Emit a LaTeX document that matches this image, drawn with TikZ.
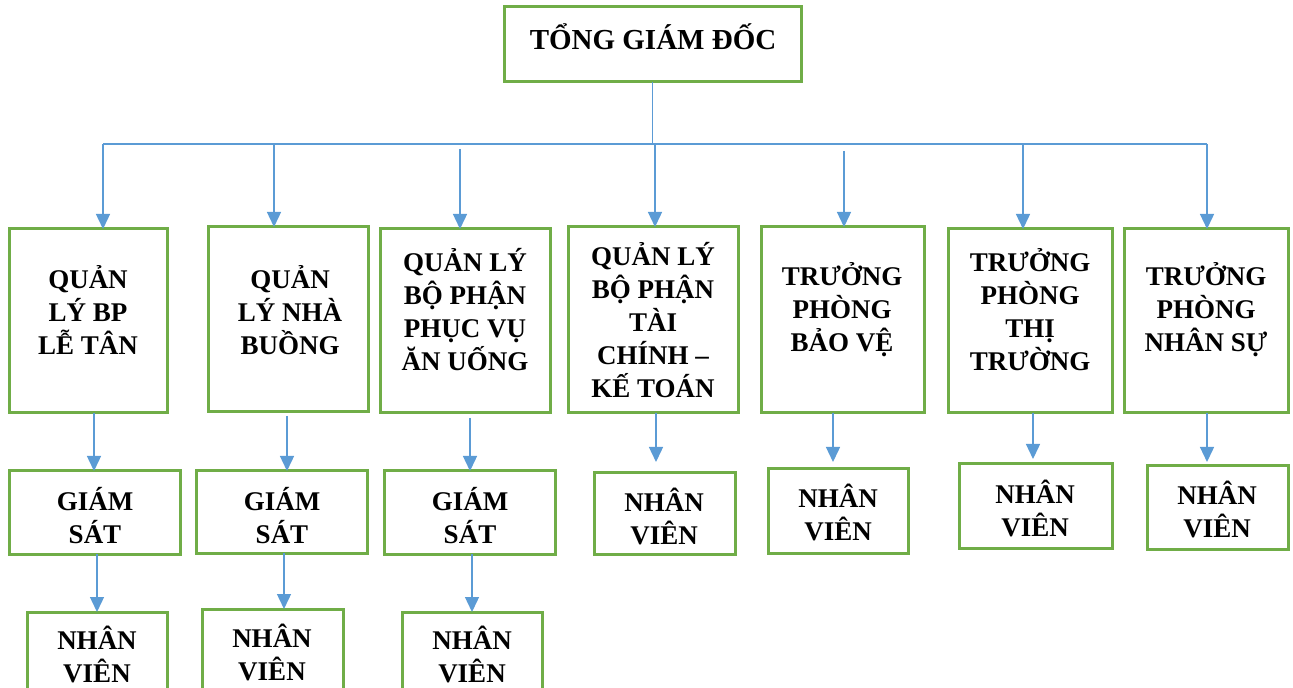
\documentclass[tikz,border=0pt]{standalone}
\usepackage{fontspec}
\setmainfont{Liberation Serif}
\usetikzlibrary{arrows.meta, fit}

\definecolor{boxgreen}{RGB}{112,173,71}
\definecolor{linkblue}{RGB}{91,155,213}

\tikzset{
  box/.style={draw=boxgreen, line width=1.5pt, inner sep=0pt, outer sep=0pt},
  txt/.style={font=\bfseries\fontsize{13.5}{16.5}\selectfont, align=center, inner sep=0pt},
  link/.style={draw=linkblue, line width=0.7pt},
  arr/.style={link, -{Triangle[length=7.5pt, width=7pt]}}
}

\begin{document}
\begin{tikzpicture}[x=0.5pt, y=-0.5pt]
  \useasboundingbox (0,0) rectangle (1293,688);
  \clip (0,0) rectangle (1293,688);

  % Top
  \node[box, fit={(504,7) (801,82)}] (ceo) {};
  \node[txt, font=\bfseries\fontsize{14.5}{16.5}\selectfont] (tceo) at (653,37) {TỔNG GIÁM ĐỐC};

  % Heads of departments
  \node[box, fit={(9,229) (167,413)}] (b1) {};
  \node[box, fit={(208,227) (368,412)}] (b2) {};
  \node[box, fit={(380,229) (550,413)}] (b3) {};
  \node[box, fit={(568,227) (738,413)}] (b4) {};
  \node[box, fit={(761,227) (924,413)}] (b5) {};
  \node[box, fit={(948,229) (1112,413)}] (b6) {};
  \node[box, fit={(1124,229) (1288,413)}] (b7) {};
  \node[txt] (t1) at (88,310) {QUẢN\\LÝ BP\\LỄ TÂN};
  \node[txt] (t2) at (290,310) {QUẢN\\LÝ NHÀ\\BUỒNG};
  \node[txt] (t3) at (465,310) {QUẢN LÝ\\BỘ PHẬN\\PHỤC VỤ\\ĂN UỐNG};
  \node[txt] (t4) at (653,320) {QUẢN LÝ\\BỘ PHẬN\\TÀI\\CHÍNH –\\KẾ TOÁN};
  \node[txt] (t5) at (842,310) {TRƯỞNG\\PHÒNG\\BẢO VỆ};
  \node[txt] (t6) at (1030,310) {TRƯỞNG\\PHÒNG\\THỊ\\TRƯỜNG};
  \node[txt] (t7) at (1206,310) {TRƯỞNG\\PHÒNG\\NHÂN SỰ};

  % Supervisors
  \node[box, fit={(9,471) (180,554)}] (g1) {};
  \node[box, fit={(196,471) (367,553)}] (g2) {};
  \node[box, fit={(384,471) (555,554)}] (g3) {};
  \node[txt] (tg1) at (95,516) {GIÁM\\SÁT};
  \node[txt] (tg2) at (282,516) {GIÁM\\SÁT};
  \node[txt] (tg3) at (470,516) {GIÁM\\SÁT};

  % Staff
  \node[box, fit={(27,612) (167,696)}] (n1) {};
  \node[box, fit={(202,609) (343,693)}] (n2) {};
  \node[box, fit={(402,612) (542,696)}] (n3) {};
  \node[box, fit={(594,473) (735,554)}] (n4) {};
  \node[box, fit={(768,469) (908,553)}] (n5) {};
  \node[box, fit={(959,464) (1112,548)}] (n6) {};
  \node[box, fit={(1147,466) (1288,549)}] (n7) {};
  \node[txt] (tn1) at (97,654) {NHÂN\\VIÊN};
  \node[txt] (tn2) at (272,652) {NHÂN\\VIÊN};
  \node[txt] (tn3) at (472,654) {NHÂN\\VIÊN};
  \node[txt] (tn4) at (664,516) {NHÂN\\VIÊN};
  \node[txt] (tn5) at (838,512) {NHÂN\\VIÊN};
  \node[txt] (tn6) at (1035,508) {NHÂN\\VIÊN};
  \node[txt] (tn7) at (1217,509) {NHÂN\\VIÊN};

  % Bus
  \coordinate (busL) at (103,144);
  \coordinate (busR) at (1207,144);
  \draw[link] (ceo.south) -- (ceo.south |- busL);
  \draw[link] (busL) -- (busR);
  \draw[arr] (103,0 |- busL) -- (103,0 |- b1.north);
  \draw[arr] (274,0 |- busL) -- (274,0 |- b2.north);
  \draw[arr, shorten <=2.5pt] (460,0 |- busL) -- (460,0 |- b3.north);
  \draw[arr] (655,0 |- busL) -- (655,0 |- b4.north);
  \draw[arr, shorten <=3.5pt] (844,0 |- busL) -- (844,0 |- b5.north);
  \draw[arr] (1023,0 |- busL) -- (1023,0 |- b6.north);
  \draw[arr] (busR) -- (busR |- b7.north);

  % Down the columns
  \draw[arr] (94,0 |- b1.south) -- (94,0 |- g1.north);
  \draw[arr] (97,0 |- g1.south) -- (97,0 |- n1.north);
  \draw[arr, shorten <=2pt] (287,0 |- b2.south) -- (287,0 |- g2.north);
  \draw[arr] (284,0 |- g2.south) -- (284,0 |- n2.north);
  \draw[arr, shorten <=2.5pt] (470,0 |- b3.south) -- (470,0 |- g3.north);
  \draw[arr] (472,0 |- g3.south) -- (472,0 |- n3.north);
  \draw[arr, shorten >=5.5pt] (656,0 |- b4.south) -- (656,0 |- n4.north);
  \draw[arr, shorten >=3.5pt] (833,0 |- b5.south) -- (833,0 |- n5.north);
  \draw[arr, shorten >=2.5pt] (1033,0 |- b6.south) -- (1033,0 |- n6.north);
  \draw[arr, shorten >=2pt] (1207,0 |- b7.south) -- (1207,0 |- n7.north);
\end{tikzpicture}
\end{document}
